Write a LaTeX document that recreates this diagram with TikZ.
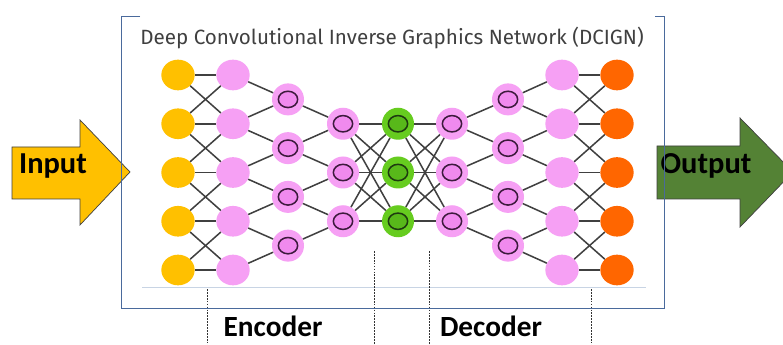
\documentclass[tikz,border=0pt]{standalone}
\usepackage{fontspec}
\setmainfont{Carlito}
\newfontfamily\titlefont{Fira Sans}
\usetikzlibrary{shapes.geometric}

\definecolor{inyellow}{HTML}{FFC000}
\definecolor{outorange}{HTML}{FF6600}
\definecolor{hidpink}{HTML}{F6A0F4}
\definecolor{ringpink}{HTML}{F08AEE}
\definecolor{ringline}{HTML}{3D1A3D}
\definecolor{codegreen}{HTML}{66CC1F}
\definecolor{codeinner}{HTML}{58B81A}
\definecolor{codeline}{HTML}{1E3A10}
\definecolor{linkgray}{HTML}{404040}
\definecolor{frameblue}{HTML}{4A6A9C}
\definecolor{groundline}{HTML}{C8D4E4}
\definecolor{titlegray}{HTML}{404040}
\definecolor{arrowgreen}{HTML}{548235}

\tikzset{
  neuron/.style={ellipse, inner sep=0pt, minimum width=1.0cm, minimum height=0.92cm},
  ringneuron/.style={circle, inner sep=0pt, minimum size=0.96cm, fill=hidpink,
    path picture={\filldraw[fill=ringpink, draw=ringline, line width=1.3pt]
      (path picture bounding box.center) ellipse (0.29cm and 0.245cm);}},
  codeneuron/.style={circle, inner sep=0pt, minimum size=0.96cm, fill=codegreen,
    path picture={\filldraw[fill=codeinner, draw=codeline, line width=1.3pt]
      (path picture bounding box.center) ellipse (0.29cm and 0.245cm);}},
  link/.style={draw=linkgray, line width=1.3pt},
  divider/.style={draw=black!80, line width=0.5pt, dash pattern=on 1.5pt off 1pt},
  bigarrow/.style={draw=black!75, line width=0.6pt},
  arrowtext/.style={font=\fontsize{26}{30}\selectfont\bfseries, anchor=base},
  parttext/.style={font=\fontsize{25}{30}\selectfont\bfseries, anchor=base,
    inner sep=0pt, text depth=0pt}
}

\begin{document}
\begin{tikzpicture}[x=0.03cm, y=-0.03cm]

  \useasboundingbox (0,0) rectangle (783,345);
  \clip (0,0) rectangle (783,345);

  % -- Input arrow --
  \fill[white] (0,0) rectangle (783,345);
  \draw[bigarrow, fill=inyellow] (12,147) -- (80,147) -- (80,120) -- (130,172)
    -- (80,225) -- (80,199) -- (12,199) -- cycle;
  \node[arrowtext] (intext) at (53,174) {Input};

  % -- Output arrow --
  \draw[bigarrow, fill=arrowgreen] (657,146) -- (740,146) -- (740,118) -- (793,172)
    -- (740,227) -- (740,199) -- (657,199) -- cycle;
  \node[arrowtext] (outtext) at (706,174) {Output};

  % -- Frame --
  \draw[frameblue, line width=0.8pt] (140,16) -- (121,16) -- (121,308) -- (664,308)
    -- (664,16) -- (655,16);
  \draw[groundline, line width=0.6pt] (142,287) -- (646,287);

  % -- Title --
  \node[font=\titlefont\fontsize{17.6}{20}\selectfont, text=titlegray] (title)
    at (392,38) {Deep Convolutional Inverse Graphics Network (DCIGN)};

  % -- Neurons --
  \foreach \i in {1,...,5} {
    \pgfmathsetmacro\yy{75+48.75*(\i-1)}
    \node[neuron, fill=inyellow] (in\i) at (178,\yy) {};
    \node[neuron, fill=hidpink] (ea\i) at (233,\yy) {};
    \node[neuron, fill=hidpink] (da\i) at (562,\yy) {};
    \node[neuron, fill=outorange] (out\i) at (617,\yy) {};
  }
  \foreach \i in {1,...,4} {
    \pgfmathsetmacro\yy{99.4+48.75*(\i-1)}
    \node[ringneuron] (eb\i) at (288,\yy) {};
    \node[ringneuron] (db\i) at (508,\yy) {};
  }
  \foreach \i in {1,...,3} {
    \pgfmathsetmacro\yy{123.75+48.75*(\i-1)}
    \node[ringneuron] (ec\i) at (343,\yy) {};
    \node[codeneuron] (z\i) at (398,\yy) {};
    \node[ringneuron] (dc\i) at (452,\yy) {};
  }

  % -- Outer layers --
  \foreach \i in {1,...,5} {
    \draw[link] (in\i) -- (ea\i);
    \draw[link] (da\i) -- (out\i);
  }
  \foreach \i [evaluate=\i as \j using int(\i+1)] in {1,...,4} {
    \draw[link] (in\i) -- (ea\j);
    \draw[link] (in\j) -- (ea\i);
    \draw[link] (da\i) -- (out\j);
    \draw[link] (da\j) -- (out\i);
    \draw[link] (ea\i) -- (eb\i);
    \draw[link] (ea\j) -- (eb\i);
    \draw[link] (da\i) -- (db\i);
    \draw[link] (da\j) -- (db\i);
  }

  % -- Narrowing layers --
  \foreach \i [evaluate=\i as \j using int(\i+1)] in {1,...,3} {
    \draw[link] (eb\i) -- (ec\i);
    \draw[link] (eb\j) -- (ec\i);
    \draw[link] (db\i) -- (dc\i);
    \draw[link] (db\j) -- (dc\i);
  }

  % -- Code layer (fully connected) --
  \foreach \i in {1,...,3} \foreach \j in {1,...,3} {
    \draw[link] (ec\i) -- (z\j);
    \draw[link] (z\i) -- (dc\j);
  }

  % -- Part dividers --
  \draw[divider] (207,289) -- (207,345);
  \draw[divider] (374,251) -- (374,345);
  \draw[divider] (429,251) -- (429,345);
  \draw[divider] (591,289) -- (591,345);

  % -- Part labels --
  \node[parttext] (enc) at (273,336) {Encoder};
  \node[parttext] (dec) at (491,336) {Decoder};

\end{tikzpicture}
\end{document}
